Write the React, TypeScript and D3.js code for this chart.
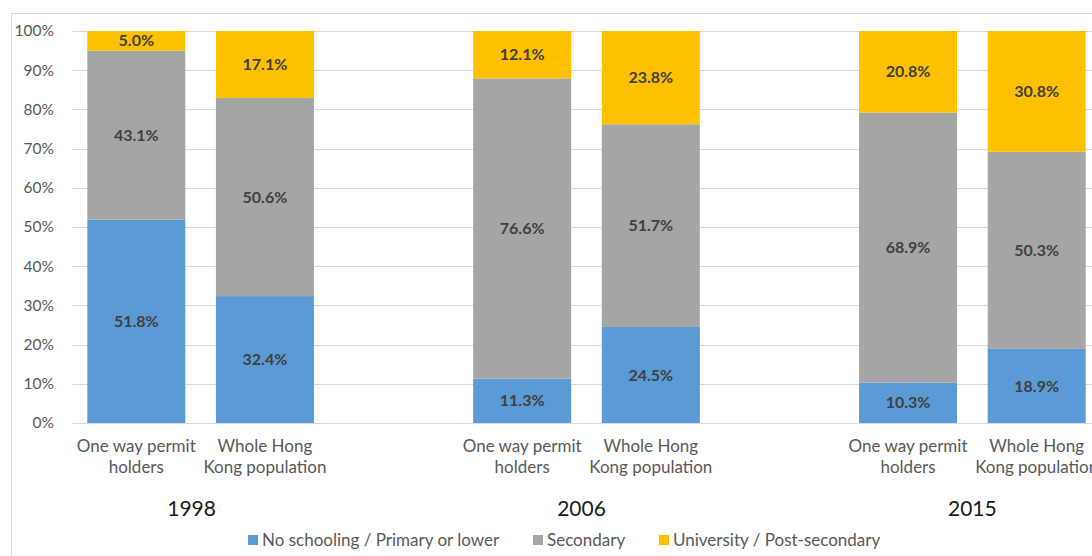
import React from "react";
import * as d3 from "d3";

const years = ["1998", "2006", "2015"];
const groups = ["One way permit holders", "Whole Hong Kong population"];
const groupLines = [["One way permit", "holders"], ["Whole Hong", "Kong population"]];
const seriesNames = ["No schooling / Primary or lower", "Secondary", "University / Post-secondary"];
const seriesColors = ["#5B9BD5", "#A5A5A5", "#FFC000"];
// order: 1998 OW, 1998 WH, 2006 OW, 2006 WH, 2015 OW, 2015 WH
const noSchooling = [51.8, 32.4, 11.3, 24.5, 10.3, 18.9];
const secondary = [43.1, 50.6, 76.6, 51.7, 68.9, 50.3];
const university = [5.0, 17.1, 12.1, 23.8, 20.8, 30.8];
const yTicks = [0, 0.1, 0.2, 0.3, 0.4, 0.5, 0.6, 0.7, 0.8, 0.9, 1.0];

const W = 1092;
const H = 556;
const FONT = "Lato, 'Open Sans', sans-serif";

export default function App() {
  const slots: string[] = [];
  const rows: any[] = [];
  years.forEach((yr, yi) => {
    groups.forEach((g, gi) => {
      const i = yi * 2 + gi;
      const key = `${yr}-${gi}`;
      slots.push(key);
      rows.push({ key, year: yr, gi, s0: noSchooling[i], s1: secondary[i], s2: university[i] });
    });
    if (yi < years.length - 1) slots.push(`blank-${yi}`);
  });

  const x = d3.scaleBand<string>().domain(slots).range([72, 1101]).paddingInner(0.238).paddingOuter(0.119);
  const y = d3.scaleLinear().domain([0, 1]).range([423, 31]);
  const stack = d3.stack<any>().keys(["s0", "s1", "s2"]).offset(d3.stackOffsetExpand);
  const series = stack(rows);
  const fmt = d3.format(".1f");
  const vals = [noSchooling, secondary, university];

  const legendX = [248, 533, 659];

  return (
    <svg width={W} height={H} style={{ position: "absolute", left: 0, top: 0, background: "#fff" }} fontFamily={FONT}>
      <rect x={11.5} y={13.5} width={W + 20} height={H + 20} fill="#fff" stroke="#D9D9D9" strokeWidth={1} />
      {yTicks.map((t) => (
        <g key={t}>
          <line x1={72} x2={W} y1={Math.round(y(t)) + 0.5} y2={Math.round(y(t)) + 0.5} stroke="#D9D9D9" strokeWidth={1} />
          <text x={54} y={y(t)} dy="0.35em" textAnchor="end" fontSize={15.5} fill="#595959">
            {d3.format(".0%")(t)}
          </text>
        </g>
      ))}
      {series.map((s, si) => (
        <g key={si}>
          {s.map((d: any, ri: number) => {
            const r = rows[ri];
            const x0 = x(r.key)!;
            const yTop = y(d[1]);
            const yBot = y(d[0]);
            return (
              <g key={ri}>
                <rect x={x0} y={yTop} width={x.bandwidth()} height={yBot - yTop} fill={seriesColors[si]} />
                <text x={x0 + x.bandwidth() / 2} y={(yTop + yBot) / 2} dy="0.35em" textAnchor="middle" fontSize={16} fontWeight="bold" fill="#404040">
                  {fmt(vals[si][ri])}%
                </text>
              </g>
            );
          })}
        </g>
      ))}
      {rows.map((r) => (
        <text key={r.key} textAnchor="middle" fontSize={17} fill="#595959">
          {groupLines[r.gi].map((ln, li) => (
            <tspan key={li} x={x(r.key)! + x.bandwidth() / 2} y={452 + li * 21}>
              {ln}
            </tspan>
          ))}
        </text>
      ))}
      {years.map((yr, yi) => {
        const cx = (x(`${yr}-0`)! + x(`${yr}-1`)! + x.bandwidth()) / 2;
        const off = yi === 0 ? -9 : yi === 1 ? -5 : 0;
        return (
          <text key={yr} x={cx + off} y={516} textAnchor="middle" fontSize={21} fill="#1a1a1a">
            {yr}
          </text>
        );
      })}
      {seriesNames.map((n, i) => (
        <g key={n}>
          <rect x={legendX[i]} y={535} width={10} height={10} fill={seriesColors[i]} />
          <text x={legendX[i] + 14} y={540} dy="0.35em" fontSize={17} fill="#595959">
            {n}
          </text>
        </g>
      ))}
    </svg>
  );
}
